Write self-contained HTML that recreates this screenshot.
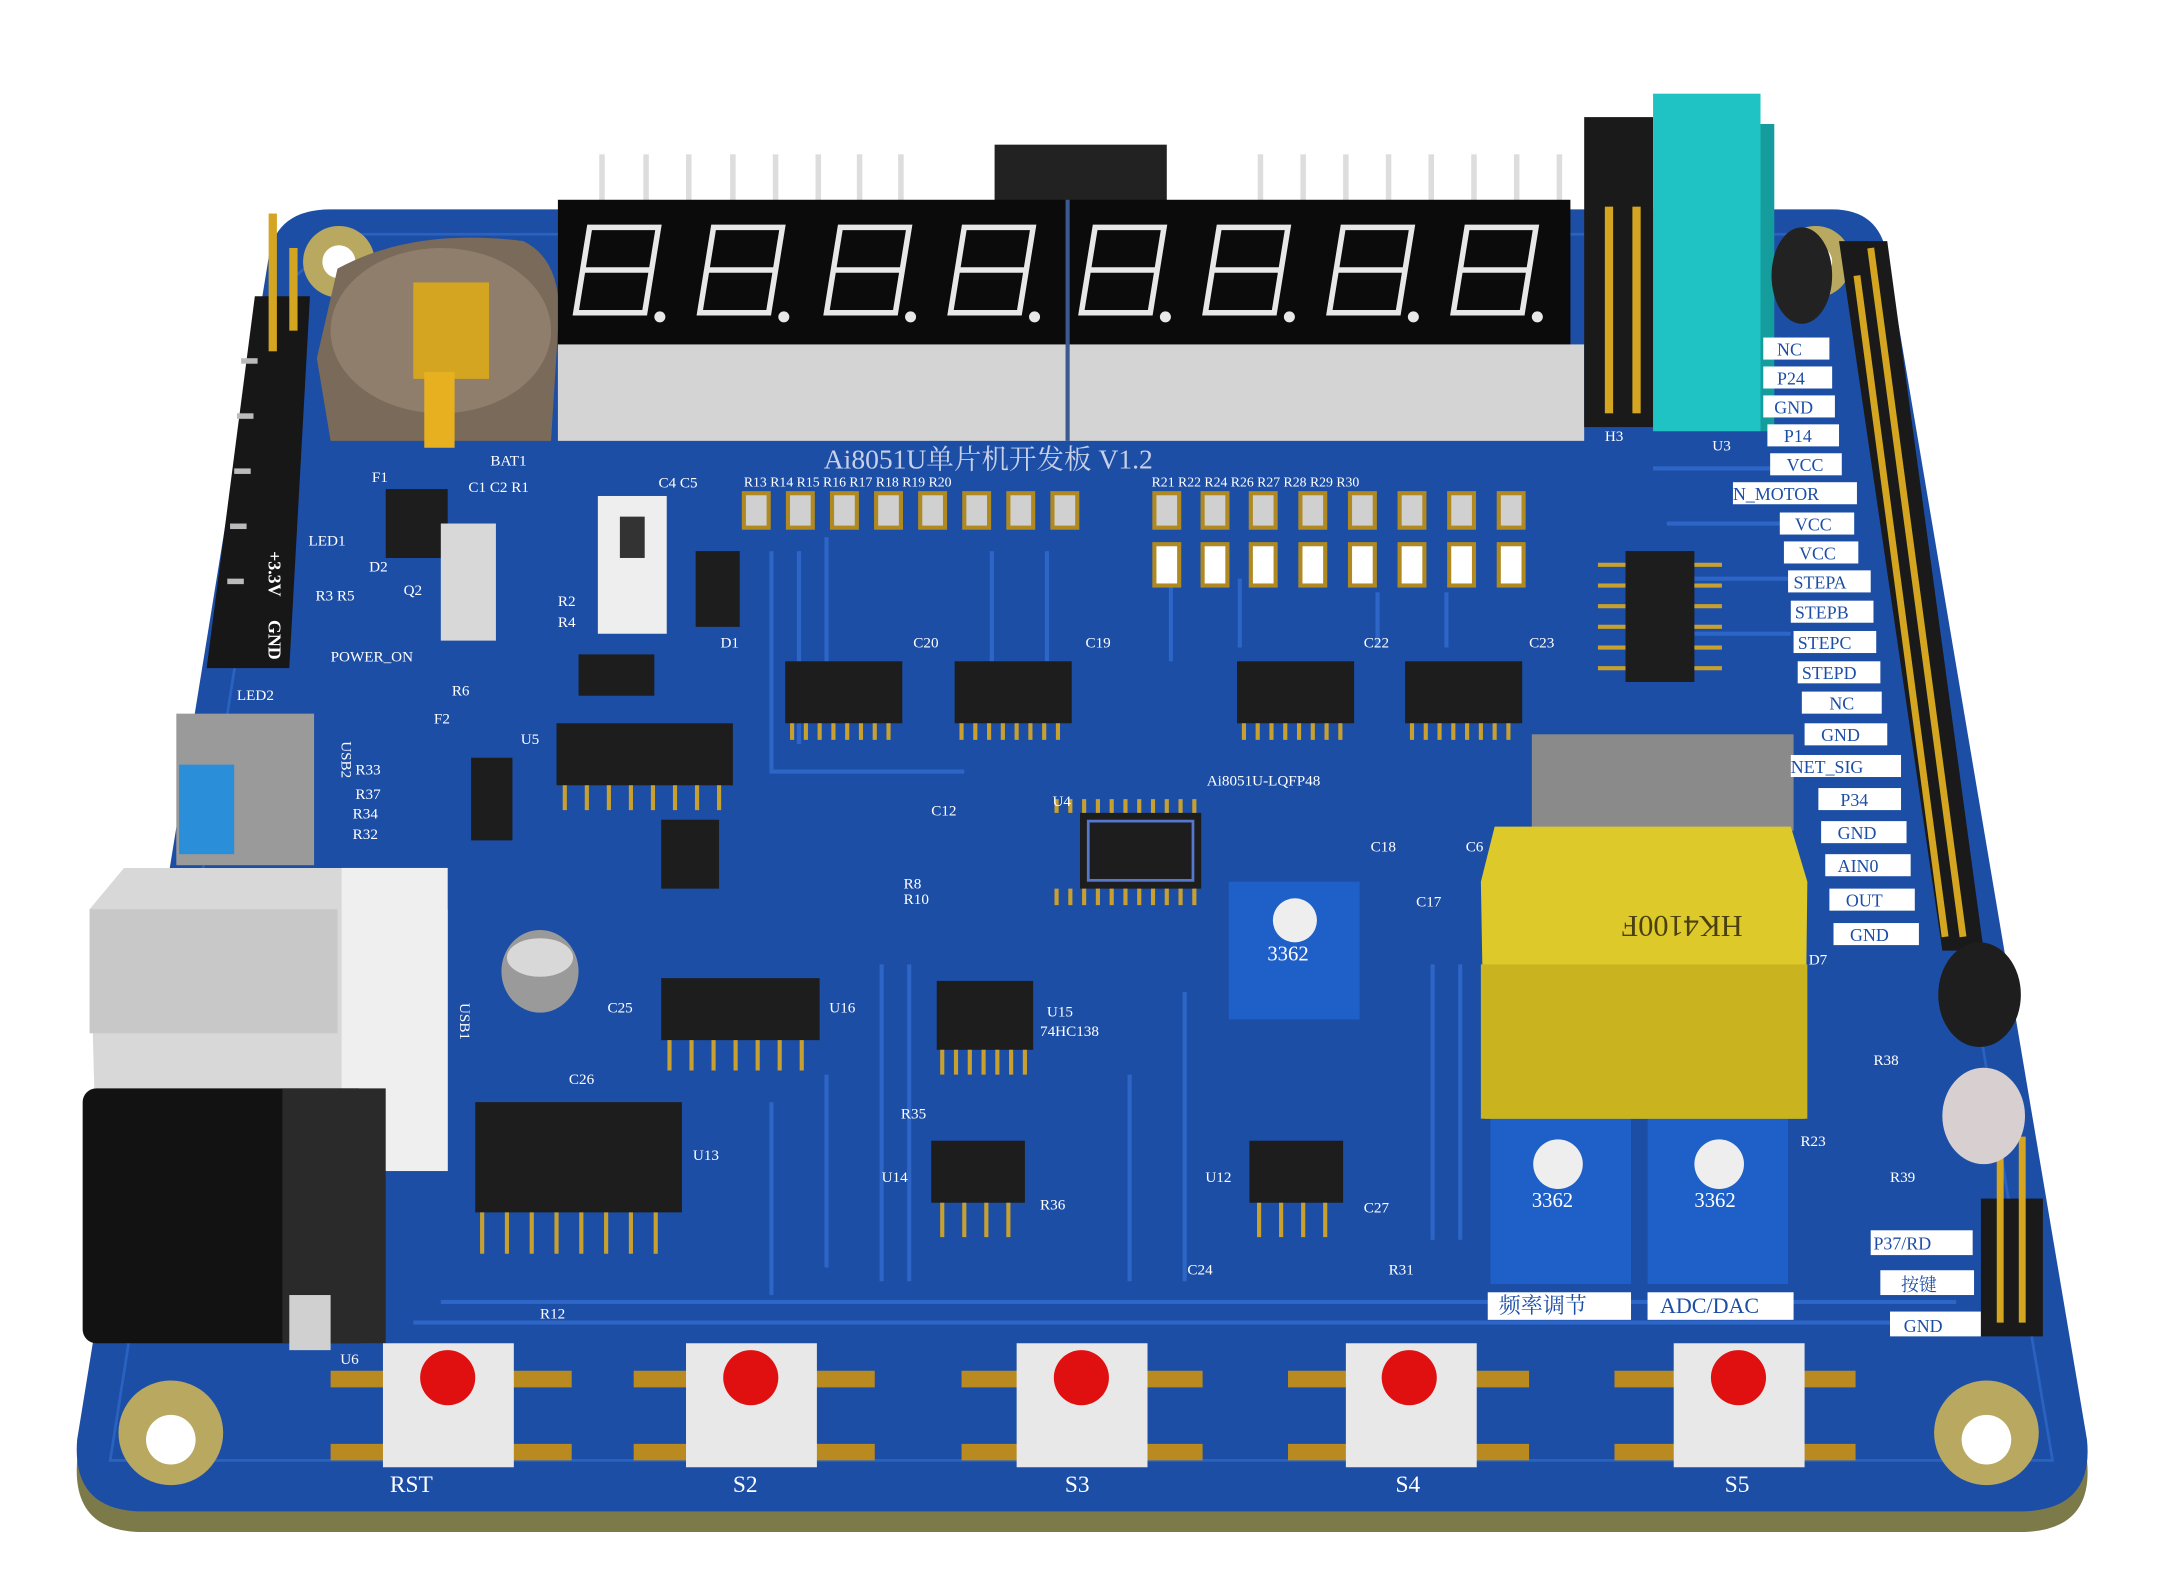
<!DOCTYPE html>
<html><head><meta charset="utf-8"><style>
html,body{margin:0;padding:0;background:#fff}
svg{display:block}
text{font-family:"Liberation Serif","Noto Serif CJK SC",serif}
</style></head><body>
<svg width="2160" height="1594" viewBox="0 0 1568 1157" preserveAspectRatio="none" xmlns="http://www.w3.org/2000/svg">
<rect width="1568" height="1157" fill="#fff"/>
<path d="M240 160 L1330 160 Q1365 160 1370 195 L1515 1060 Q1520 1110 1470 1112 L100 1112 Q52 1110 56 1060 L195 195 Q200 160 240 160Z" fill="#7d7a4a"/>
<path d="M240 152 L1330 152 Q1365 152 1370 187 L1515 1045 Q1520 1095 1470 1097 L100 1097 Q52 1095 56 1045 L195 187 Q200 152 240 152Z" fill="#1d4ea6"/>
<path d="M250 170 L1320 170 L1345 200 L1490 1060 L80 1060 L215 200Z" fill="none" stroke="#2a62c0" stroke-width="2"/>
<g stroke="#2d66c6" stroke-width="3" fill="none">
<path d="M560 400 L560 560 L700 560"/><path d="M580 400 L580 540"/><path d="M600 390 L600 520"/><path d="M720 400 L720 480"/><path d="M760 400 L760 480"/>
<path d="M850 400 L850 480"/><path d="M900 420 L900 470"/><path d="M1000 430 L1000 470"/><path d="M1050 430 L1050 470"/>
<path d="M300 960 L1440 960"/><path d="M320 945 L1420 945"/><path d="M640 700 L640 930"/><path d="M660 700 L660 930"/><path d="M820 780 L820 930"/><path d="M860 720 L860 930"/>
<path d="M560 800 L560 940"/><path d="M600 780 L600 920"/><path d="M1040 700 L1040 900"/><path d="M1060 700 L1060 900"/>
<path d="M1200 340 L1300 340"/><path d="M1210 380 L1300 380"/><path d="M1220 420 L1300 420"/><path d="M1225 460 L1300 460"/>
</g>
<g fill="#b8a860"><circle cx="246" cy="190" r="26"/><circle cx="1318" cy="190" r="26"/><circle cx="124" cy="1040" r="38"/><circle cx="1442" cy="1040" r="38"/></g>
<g fill="#fff"><circle cx="246" cy="190" r="12"/><circle cx="1318" cy="190" r="12"/><circle cx="124" cy="1045" r="18"/><circle cx="1442" cy="1045" r="18"/></g>
<path d="M245 195 Q300 165 380 175 Q410 190 405 240 L400 320 L240 320 L230 260Z" fill="#7a6a5a"/>
<ellipse cx="320" cy="240" rx="80" ry="60" fill="#8f7e6c"/>
<rect x="300" y="205" width="55" height="70" fill="#d4a520"/><rect x="308" y="270" width="22" height="55" fill="#e7b020"/>
<text x="356" y="338" font-size="11" fill="#fff">BAT1</text>
<g fill="#ddd"><rect x="435" y="112" width="4" height="40"/><rect x="467" y="112" width="4" height="40"/><rect x="498" y="112" width="4" height="40"/><rect x="530" y="112" width="4" height="40"/><rect x="561" y="112" width="4" height="40"/><rect x="592" y="112" width="4" height="40"/><rect x="622" y="112" width="4" height="40"/><rect x="652" y="112" width="4" height="40"/>
<rect x="913" y="112" width="4" height="40"/><rect x="944" y="112" width="4" height="40"/><rect x="975" y="112" width="4" height="40"/><rect x="1006" y="112" width="4" height="40"/><rect x="1037" y="112" width="4" height="40"/><rect x="1068" y="112" width="4" height="40"/><rect x="1099" y="112" width="4" height="40"/><rect x="1130" y="112" width="4" height="40"/></g>
<rect x="722" y="105" width="125" height="42" fill="#222"/>
<rect x="405" y="145" width="735" height="107" fill="#0b0b0b"/>
<rect x="405" y="250" width="745" height="70" fill="#d4d4d4"/>
<line x1="775" y1="145" x2="775" y2="320" stroke="#3a5a90" stroke-width="3"/>
<g stroke="#e8e8e8" stroke-width="4" fill="none">
<path d="M428 165 h50 l-10 62 h-50 z M423 196 h50"/><path d="M518 165 h50 l-10 62 h-50 z M513 196 h50"/><path d="M610 165 h50 l-10 62 h-50 z M605 196 h50"/><path d="M700 165 h50 l-10 62 h-50 z M695 196 h50"/>
<path d="M795 165 h50 l-10 62 h-50 z M790 196 h50"/><path d="M885 165 h50 l-10 62 h-50 z M880 196 h50"/><path d="M975 165 h50 l-10 62 h-50 z M970 196 h50"/><path d="M1065 165 h50 l-10 62 h-50 z M1060 196 h50"/>
</g>
<g fill="#e8e8e8"><circle cx="479" cy="230" r="4"/><circle cx="569" cy="230" r="4"/><circle cx="661" cy="230" r="4"/><circle cx="751" cy="230" r="4"/><circle cx="846" cy="230" r="4"/><circle cx="936" cy="230" r="4"/><circle cx="1026" cy="230" r="4"/><circle cx="1116" cy="230" r="4"/></g>
<rect x="1150" y="85" width="50" height="225" fill="#1a1a1a"/>
<g fill="#d4a520"><rect x="1165" y="150" width="6" height="150"/><rect x="1185" y="150" width="6" height="150"/></g>
<rect x="1200" y="68" width="78" height="245" fill="#20c3c3"/><rect x="1278" y="90" width="10" height="223" fill="#159c9c"/>
<ellipse cx="1308" cy="200" rx="22" ry="35" fill="#222"/>
<text x="1165" y="320" font-size="11" fill="#fff">H3</text><text x="1243" y="327" font-size="11" fill="#fff">U3</text>
<path d="M185 215 L225 215 L210 485 L150 485Z" fill="#171717"/>
<g fill="#d4a520"><rect x="195" y="155" width="6" height="100"/><rect x="210" y="180" width="6" height="60"/></g>
<g fill="#bbb"><rect x="175" y="260" width="12" height="4"/><rect x="172" y="300" width="12" height="4"/><rect x="170" y="340" width="12" height="4"/><rect x="167" y="380" width="12" height="4"/><rect x="165" y="420" width="12" height="4"/></g>
<text x="195" y="400" font-size="13" fill="#fff" font-weight="bold" transform="rotate(90 195 400)">+3.3V</text>
<text x="195" y="450" font-size="13" fill="#fff" font-weight="bold" transform="rotate(90 195 450)">GND</text>
<text x="598" y="340" font-size="20" fill="#c8d0e8">Ai8051U单片机开发板 V1.2</text>
<g font-size="10" fill="#fff">
<text x="540" y="353">R13 R14 R15 R16 R17 R18 R19 R20</text>
<text x="836" y="353">R21  R22  R24  R26  R27  R28  R29  R30</text>
</g>
<g fill="#d0d0d0" stroke="#b08a20" stroke-width="3">
<rect x="540" y="358" width="18" height="25"/><rect x="572" y="358" width="18" height="25"/><rect x="604" y="358" width="18" height="25"/><rect x="636" y="358" width="18" height="25"/><rect x="668" y="358" width="18" height="25"/><rect x="700" y="358" width="18" height="25"/><rect x="732" y="358" width="18" height="25"/><rect x="764" y="358" width="18" height="25"/>
<rect x="838" y="358" width="18" height="25"/><rect x="873" y="358" width="18" height="25"/><rect x="908" y="358" width="18" height="25"/><rect x="944" y="358" width="18" height="25"/><rect x="980" y="358" width="18" height="25"/><rect x="1016" y="358" width="18" height="25"/><rect x="1052" y="358" width="18" height="25"/><rect x="1088" y="358" width="18" height="25"/>
<rect x="838" y="395" width="18" height="30" fill="#fff"/><rect x="873" y="395" width="18" height="30" fill="#fff"/><rect x="908" y="395" width="18" height="30" fill="#fff"/><rect x="944" y="395" width="18" height="30" fill="#fff"/><rect x="980" y="395" width="18" height="30" fill="#fff"/><rect x="1016" y="395" width="18" height="30" fill="#fff"/><rect x="1052" y="395" width="18" height="30" fill="#fff"/><rect x="1088" y="395" width="18" height="30" fill="#fff"/>
</g>
<g fill="#1d1d1d">
<rect x="570" y="480" width="85" height="45"/><rect x="693" y="480" width="85" height="45"/><rect x="898" y="480" width="85" height="45"/><rect x="1020" y="480" width="85" height="45"/>
<rect x="404" y="525" width="128" height="45"/><rect x="480" y="710" width="115" height="45"/><rect x="680" y="712" width="70" height="50"/>
<rect x="345" y="800" width="150" height="80"/><rect x="676" y="828" width="68" height="45"/><rect x="907" y="828" width="68" height="45"/>
<rect x="1180" y="400" width="50" height="95"/><rect x="480" y="595" width="42" height="50"/><rect x="420" y="475" width="55" height="30"/>
<rect x="784" y="590" width="88" height="55"/>
</g>
<rect x="790" y="596" width="76" height="43" fill="none" stroke="#5577cc" stroke-width="2"/>
<g stroke="#c8a030" stroke-width="3">
<path d="M575 525 v12 M585 525 v12 M595 525 v12 M605 525 v12 M615 525 v12 M625 525 v12 M635 525 v12 M645 525 v12"/>
<path d="M698 525 v12 M708 525 v12 M718 525 v12 M728 525 v12 M738 525 v12 M748 525 v12 M758 525 v12 M768 525 v12"/>
<path d="M903 525 v12 M913 525 v12 M923 525 v12 M933 525 v12 M943 525 v12 M953 525 v12 M963 525 v12 M973 525 v12"/>
<path d="M1025 525 v12 M1035 525 v12 M1045 525 v12 M1055 525 v12 M1065 525 v12 M1075 525 v12 M1085 525 v12 M1095 525 v12"/>
<path d="M410 570 v18 M426 570 v18 M442 570 v18 M458 570 v18 M474 570 v18 M490 570 v18 M506 570 v18 M522 570 v18"/>
<path d="M486 755 v22 M502 755 v22 M518 755 v22 M534 755 v22 M550 755 v22 M566 755 v22 M582 755 v22"/>
<path d="M684 762 v18 M694 762 v18 M704 762 v18 M714 762 v18 M724 762 v18 M734 762 v18 M744 762 v18"/>
<path d="M350 880 v30 M368 880 v30 M386 880 v30 M404 880 v30 M422 880 v30 M440 880 v30 M458 880 v30 M476 880 v30"/>
<path d="M684 873 v25 M700 873 v25 M716 873 v25 M732 873 v25 M914 873 v25 M930 873 v25 M946 873 v25 M962 873 v25"/>
<path d="M767 580 v10 M777 580 v10 M787 580 v10 M797 580 v10 M807 580 v10 M817 580 v10 M827 580 v10 M837 580 v10 M847 580 v10 M857 580 v10 M867 580 v10"/>
<path d="M767 645 v12 M777 645 v12 M787 645 v12 M797 645 v12 M807 645 v12 M817 645 v12 M827 645 v12 M837 645 v12 M847 645 v12 M857 645 v12 M867 645 v12"/>
<path d="M1160 410 h20 M1160 425 h20 M1160 440 h20 M1160 455 h20 M1160 470 h20 M1160 485 h20 M1230 410 h20 M1230 425 h20 M1230 440 h20 M1230 455 h20 M1230 470 h20 M1230 485 h20"/>
</g>
<g font-size="11" fill="#fff">
<text x="663" y="470">C20</text><text x="788" y="470">C19</text><text x="990" y="470">C22</text><text x="1110" y="470">C23</text>
<text x="378" y="540">U5</text><text x="764" y="585">U4</text><text x="876" y="570">Ai8051U-LQFP48</text>
<text x="602" y="735">U16</text><text x="760" y="738">U15</text><text x="755" y="752">74HC138</text>
<text x="503" y="842">U13</text><text x="640" y="858">U14</text><text x="755" y="878">R36</text><text x="875" y="858">U12</text>
<text x="990" y="880">C27</text><text x="1008" y="925">R31</text><text x="862" y="925">C24</text><text x="654" y="812">R35</text>
<text x="676" y="592">C12</text><text x="656" y="645">R8</text><text x="656" y="656">R10</text>
<text x="995" y="618">C18</text><text x="1028" y="658">C17</text><text x="1064" y="618">C6</text>
<text x="441" y="735">C25</text><text x="413" y="787">C26</text><text x="392" y="957">R12</text>
<text x="270" y="350">F1</text><text x="340" y="357">C1 C2 R1</text><text x="478" y="354">C4 C5</text>
<text x="224" y="396">LED1</text><text x="268" y="415">D2</text><text x="293" y="432">Q2</text><text x="229" y="436">R3 R5</text>
<text x="405" y="440">R2</text><text x="405" y="455">R4</text><text x="523" y="470">D1</text><text x="240" y="480">POWER_ON</text>
<text x="172" y="508">LED2</text><text x="328" y="505">R6</text><text x="315" y="525">F2</text>
<text x="258" y="562">R33</text><text x="258" y="580">R37</text><text x="256" y="594">R34</text><text x="256" y="609">R32</text>
<text x="1313" y="700">D7</text><text x="1360" y="773">R38</text><text x="1372" y="858">R39</text><text x="1307" y="832">R23</text><text x="247" y="990">U6</text>
</g>
<g>
<rect x="892" y="640" width="95" height="100" fill="#1f5fc8"/><circle cx="940" cy="668" r="16" fill="#eee"/><text x="920" y="697" font-size="15" fill="#fff" font-family="Liberation Sans">3362</text>
<rect x="1082" y="812" width="102" height="120" fill="#1f5fc8"/><circle cx="1131" cy="845" r="18" fill="#eee"/><text x="1112" y="876" font-size="15" fill="#fff" font-family="Liberation Sans">3362</text>
<rect x="1196" y="812" width="102" height="120" fill="#1f5fc8"/><circle cx="1248" cy="845" r="18" fill="#eee"/><text x="1230" y="876" font-size="15" fill="#fff" font-family="Liberation Sans">3362</text>
</g>
<rect x="1080" y="938" width="104" height="20" fill="#fff"/><text x="1088" y="953" font-size="16" fill="#1d4ea6">频率调节</text>
<rect x="1196" y="938" width="106" height="20" fill="#fff"/><text x="1205" y="953" font-size="16" fill="#1d4ea6">ADC/DAC</text>
<rect x="1112" y="533" width="190" height="70" fill="#8a8a8a"/>
<path d="M1085 600 L1300 600 L1312 640 L1310 812 L1078 812 L1075 640Z" fill="#ddc92a"/>
<rect x="1075" y="700" width="237" height="112" fill="#c9b420"/>
<text x="1145" y="689" font-size="22" fill="#4a4010" font-family="Liberation Sans" transform="rotate(180 1205 677)">HK4100F</text>
<path d="M1335 175 L1370 175 L1440 690 L1410 690Z" fill="#1a1a1a"/>
<g stroke="#d4a520" stroke-width="5">
<path d="M1358 180 L1425 680"/><path d="M1348 200 L1412 680"/>
</g>
<g font-size="13" fill="#1d4ea6">
<rect x="1280" y="245" width="48" height="16" fill="#fff"/><text x="1290" y="258">NC</text>
<rect x="1280" y="266" width="50" height="16" fill="#fff"/><text x="1290" y="279">P24</text>
<rect x="1280" y="287" width="52" height="16" fill="#fff"/><text x="1288" y="300">GND</text>
<rect x="1283" y="308" width="52" height="16" fill="#fff"/><text x="1295" y="321">P14</text>
<rect x="1285" y="329" width="52" height="16" fill="#fff"/><text x="1297" y="342">VCC</text>
<rect x="1258" y="350" width="90" height="16" fill="#fff"/><text x="1258" y="363">N_MOTOR</text>
<rect x="1292" y="372" width="54" height="16" fill="#fff"/><text x="1303" y="385">VCC</text>
<rect x="1295" y="393" width="54" height="16" fill="#fff"/><text x="1306" y="406">VCC</text>
<rect x="1298" y="414" width="60" height="16" fill="#fff"/><text x="1302" y="427">STEPA</text>
<rect x="1300" y="436" width="60" height="16" fill="#fff"/><text x="1303" y="449">STEPB</text>
<rect x="1302" y="458" width="60" height="16" fill="#fff"/><text x="1305" y="471">STEPC</text>
<rect x="1305" y="480" width="60" height="16" fill="#fff"/><text x="1308" y="493">STEPD</text>
<rect x="1308" y="502" width="58" height="16" fill="#fff"/><text x="1328" y="515">NC</text>
<rect x="1310" y="525" width="60" height="16" fill="#fff"/><text x="1322" y="538">GND</text>
<rect x="1300" y="548" width="80" height="16" fill="#fff"/><text x="1300" y="561">NET_SIG</text>
<rect x="1320" y="572" width="60" height="16" fill="#fff"/><text x="1336" y="585">P34</text>
<rect x="1322" y="596" width="62" height="16" fill="#fff"/><text x="1334" y="609">GND</text>
<rect x="1325" y="620" width="62" height="16" fill="#fff"/><text x="1334" y="633">AIN0</text>
<rect x="1328" y="645" width="62" height="16" fill="#fff"/><text x="1340" y="658">OUT</text>
<rect x="1331" y="670" width="62" height="16" fill="#fff"/><text x="1343" y="683">GND</text>
<rect x="1358" y="893" width="74" height="18" fill="#fff"/><text x="1360" y="907">P37/RD</text>
<rect x="1365" y="922" width="68" height="18" fill="#fff"/><text x="1380" y="937">按键</text>
<rect x="1372" y="952" width="66" height="18" fill="#fff"/><text x="1382" y="967">GND</text>
</g>
<rect x="1438" y="870" width="45" height="100" fill="#1a1a1a"/>
<g stroke="#d4a520" stroke-width="5"><path d="M1452 835 V960"/><path d="M1468 825 V960"/></g>
<ellipse cx="1437" cy="722" rx="30" ry="38" fill="#1e1e1e"/>
<ellipse cx="1440" cy="810" rx="30" ry="35" fill="#d8d0d0"/>
<rect x="128" y="518" width="100" height="110" fill="#9a9a9a"/><rect x="130" y="555" width="40" height="65" fill="#2a8fd8"/>
<path d="M90 630 L300 630 L325 660 L325 850 L70 850 L65 660Z" fill="#d8d8d8"/>
<rect x="248" y="630" width="77" height="220" fill="#efefef"/>
<rect x="65" y="660" width="180" height="90" fill="#c8c8c8"/>
<rect x="60" y="790" width="210" height="185" rx="10" fill="#121212"/>
<rect x="205" y="790" width="75" height="185" fill="#2a2a2a"/>
<rect x="210" y="940" width="30" height="40" fill="#d0d0d0"/>
<text x="334" y="728" font-size="11" fill="#fff" transform="rotate(90 334 728)">USB1</text>
<text x="248" y="538" font-size="11" fill="#fff" transform="rotate(90 248 538)">USB2</text>
<rect x="280" y="355" width="45" height="50" fill="#1d1d1d"/><rect x="320" y="380" width="40" height="85" fill="#d8d8d8"/>
<rect x="434" y="360" width="50" height="100" fill="#eee"/><rect x="450" y="375" width="18" height="30" fill="#333"/>
<rect x="505" y="400" width="32" height="55" fill="#1d1d1d"/>
<rect x="342" y="550" width="30" height="60" fill="#1d1d1d"/>
<ellipse cx="392" cy="705" rx="28" ry="30" fill="#9a9a9a"/><ellipse cx="392" cy="695" rx="24" ry="14" fill="#d8d8d8"/>
<g>
<path d="M240 995 h175 v12 h-175z M240 1048 h175 v12 h-175z" fill="#b88a20"/>
<rect x="278" y="975" width="95" height="90" fill="#e8e8e8"/><circle cx="325" cy="1000" r="20" fill="#e01010"/>
<path d="M460 995 h175 v12 h-175z M460 1048 h175 v12 h-175z" fill="#b88a20"/>
<rect x="498" y="975" width="95" height="90" fill="#e8e8e8"/><circle cx="545" cy="1000" r="20" fill="#e01010"/>
<path d="M698 995 h175 v12 h-175z M698 1048 h175 v12 h-175z" fill="#b88a20"/>
<rect x="738" y="975" width="95" height="90" fill="#e8e8e8"/><circle cx="785" cy="1000" r="20" fill="#e01010"/>
<path d="M935 995 h175 v12 h-175z M935 1048 h175 v12 h-175z" fill="#b88a20"/>
<rect x="977" y="975" width="95" height="90" fill="#e8e8e8"/><circle cx="1023" cy="1000" r="20" fill="#e01010"/>
<path d="M1172 995 h175 v12 h-175z M1172 1048 h175 v12 h-175z" fill="#b88a20"/>
<rect x="1215" y="975" width="95" height="90" fill="#e8e8e8"/><circle cx="1262" cy="1000" r="20" fill="#e01010"/>
</g>
<g font-size="17" fill="#fff"><text x="283" y="1083">RST</text><text x="532" y="1083">S2</text><text x="773" y="1083">S3</text><text x="1013" y="1083">S4</text><text x="1252" y="1083">S5</text></g>
</svg>
</body></html>
